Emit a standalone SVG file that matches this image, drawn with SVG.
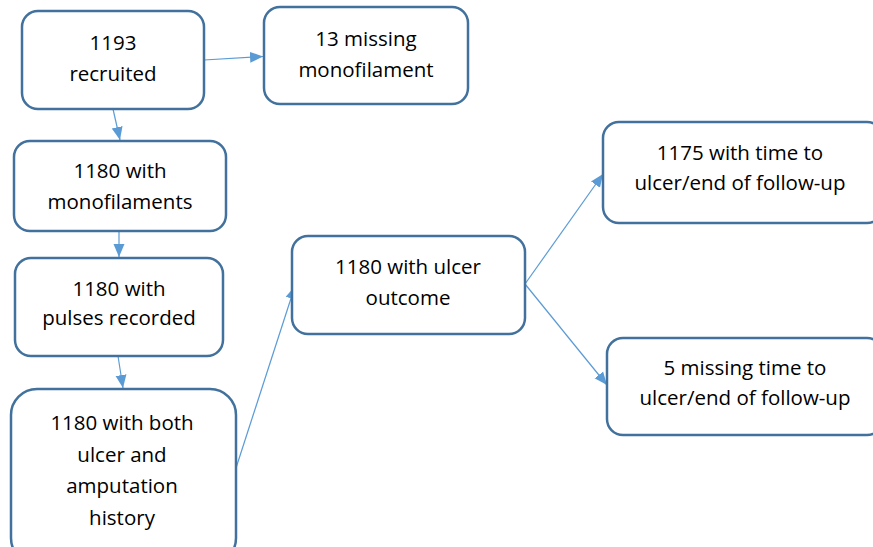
<svg xmlns="http://www.w3.org/2000/svg" width="873" height="547" viewBox="0 0 873 547">
<style>
.box{fill:#fff;stroke:#41719C;stroke-width:2.5}
.t{font-family:"Open Sans","Liberation Sans",sans-serif;font-size:20.5px;fill:#000;text-anchor:middle}
.c{stroke:#5B9BD5;stroke-width:1.2;fill:none;marker-end:url(#ah)}
</style>
<defs>
<marker id="ah" markerUnits="userSpaceOnUse" markerWidth="14" markerHeight="14" viewBox="0 0 14 14" refX="13" refY="7" orient="auto">
<path d="M0,1.5 L13,7 L0,12.5 Z" fill="#5B9BD5"/>
</marker>
</defs>
<g id="connectors">
<line class="c" x1="204" y1="60" x2="263" y2="56.5"/>
<line class="c" x1="113" y1="109" x2="120" y2="140"/>
<line class="c" x1="119" y1="231" x2="119" y2="257"/>
<line class="c" x1="118" y1="356" x2="123" y2="388"/>
<line class="c" x1="236" y1="468" x2="295" y2="286"/>
<line class="c" x1="525" y1="284" x2="603" y2="174"/>
<line class="c" x1="525" y1="284" x2="607" y2="385"/>
</g>
<g id="n1"><rect class="box" x="22" y="11" width="182" height="98" rx="16"/><text class="t" x="113" y="50">1193</text><text class="t" x="113" y="81">recruited</text></g>
<g id="n2"><rect class="box" x="264" y="7" width="204" height="97" rx="16"/><text class="t" x="366" y="46">13 missing</text><text class="t" x="366" y="77">monofilament</text></g>
<g id="n3"><rect class="box" x="14" y="141" width="212" height="90" rx="16"/><text class="t" x="120" y="178">1180 with</text><text class="t" x="120" y="209">monofilaments</text></g>
<g id="n4"><rect class="box" x="15" y="258" width="208" height="98" rx="16"/><text class="t" x="119" y="296">1180 with</text><text class="t" x="119" y="325">pulses recorded</text></g>
<g id="n5"><rect class="box" x="11" y="389" width="225" height="175" rx="26"/><text class="t" x="122" y="430">1180 with both</text><text class="t" x="122" y="462">ulcer and</text><text class="t" x="122" y="493">amputation</text><text class="t" x="122" y="525">history</text></g>
<g id="n6"><rect class="box" x="292" y="236" width="233" height="98" rx="16"/><text class="t" x="408" y="274">1180 with ulcer</text><text class="t" x="408" y="305">outcome</text></g>
<g id="n7"><rect class="box" x="603" y="122" width="280" height="101" rx="16"/><text class="t" x="740" y="160">1175 with time to</text><text class="t" x="740" y="190">ulcer/end of follow-up</text></g>
<g id="n8"><rect class="box" x="607" y="338" width="276" height="97" rx="16"/><text class="t" x="745" y="375">5 missing time to</text><text class="t" x="745" y="405">ulcer/end of follow-up</text></g>
</svg>
